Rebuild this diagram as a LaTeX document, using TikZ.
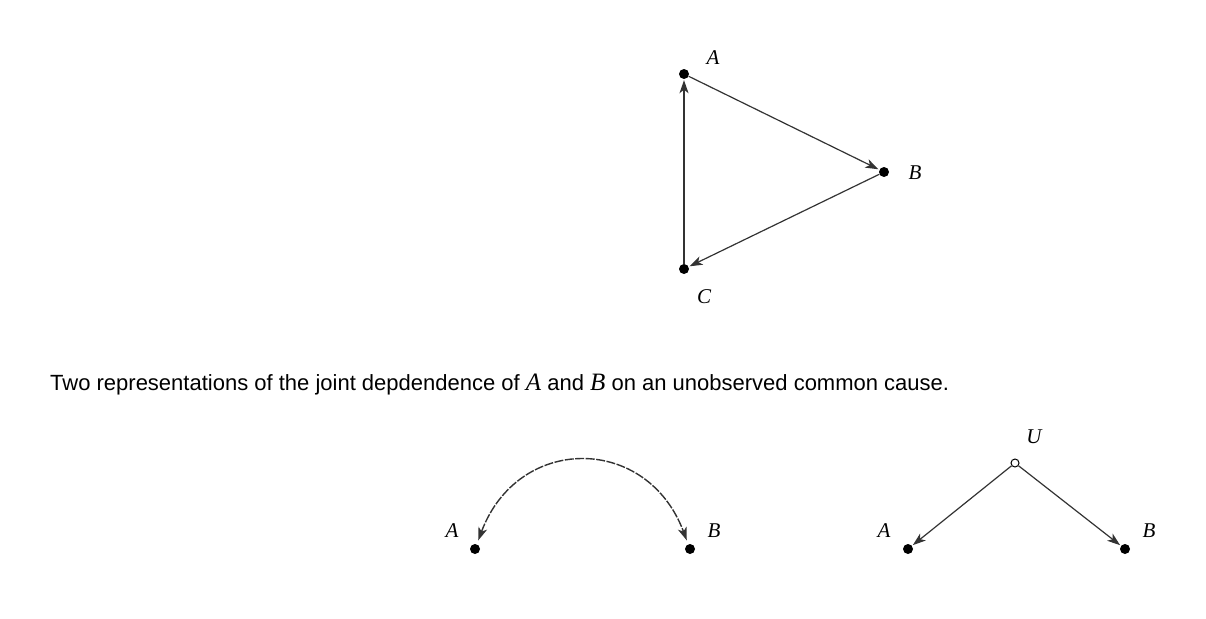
\documentclass[tikz,border=0pt]{standalone}
\usepackage{fontspec}
\setmainfont{Liberation Sans}
\newfontfamily\lblfont{Liberation Serif}
\usetikzlibrary{arrows.meta}
\begin{document}
\begin{tikzpicture}[x=1pt,y=-1pt,
  dot/.style={circle,fill=black,inner sep=0pt,minimum size=10pt},
  odot/.style={circle,draw=black,fill=white,line width=1pt,inner sep=0pt,minimum size=8pt},
  lbl/.style={font=\lblfont\itshape\fontsize{21}{21}\selectfont,inner sep=0pt},
  edge/.style={draw=black!80,line width=1.2pt,-{Stealth[length=13pt,width=9pt,inset=3.5pt]},shorten >=1pt}]
\useasboundingbox (0,0) rectangle (1206,618);
% top triangle
\node[dot] (A1) at (684,74) {};
\node[dot] (B1) at (884,172) {};
\node[dot] (C1) at (684,269) {};
\node[lbl] (lA1) at (713,58) {A};
\node[lbl] (lB1) at (915,173) {B};
\node[lbl] (lC1) at (704,297) {C};
\draw[edge] (A1) -- (B1);
\draw[edge] (B1) -- (C1);
\draw[edge] (C1) -- (A1);
% caption
\node[anchor=base west,inner sep=0pt,font=\fontsize{22}{24}\selectfont] (cap) at (50,390)
  {Two representations of the joint depdendence of {\lblfont\itshape\fontsize{25}{25}\selectfont A} and {\lblfont\itshape\fontsize{25}{25}\selectfont B} on an unobserved common cause.};
% bottom left
\node[dot] (A2) at (475,549) {};
\node[dot] (B2) at (690,549) {};
\node[lbl] (lA2) at (452,531) {A};
\node[lbl] (lB2) at (714,531) {B};
\draw[draw=black!80,line width=1.4pt,dash pattern=on 9pt off 1.5pt,{Stealth[length=13pt,width=9pt,inset=3.5pt]}-{Stealth[length=13pt,width=9pt,inset=3.5pt]},shorten >=4pt,shorten <=4pt]
  (A2) .. controls (518,434) and (647,434) .. (B2);
% bottom right
\node[odot] (U3) at (1015,463) {};
\node[dot] (A3) at (908,549) {};
\node[dot] (B3) at (1125,549) {};
\node[lbl] (lU3) at (1034,437) {U};
\node[lbl] (lA3) at (884,531) {A};
\node[lbl] (lB3) at (1149,531) {B};
\draw[edge] (U3) -- (A3);
\draw[edge] (U3) -- (B3);
\end{tikzpicture}
\end{document}
